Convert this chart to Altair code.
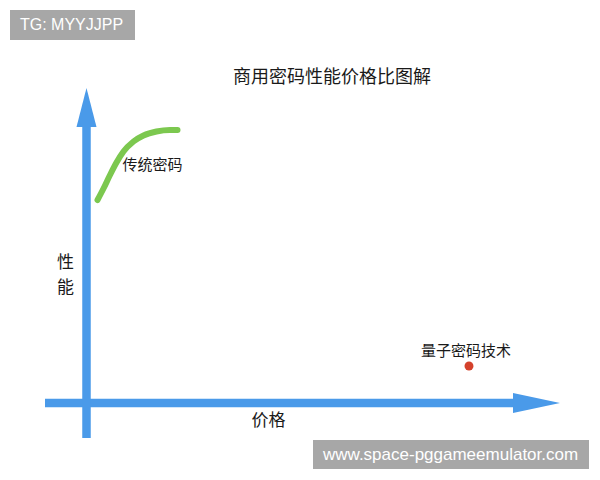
import altair as alt
import pandas as pd

# Diagram coordinates: origin where the two arrows cross, 1 unit ~ 1 px
X_DOMAIN = [-78.5, 505.5]
Y_DOMAIN = [-69, 395]

BLUE = "#4a9ae9"
GREEN = "#7cc84f"
RED = "#d4412b"
GREY = "#a7a7a7"
CJK = "Noto Sans CJK SC"
LATIN = "Liberation Sans"

# Axis shafts (price axis, performance axis)
shaft_x = [-41.5, 0]
shaft_x2 = [426.5, 0]
shaft_y = [0, -35]
shaft_y2 = [0, 276]

# Arrow heads
v_head_y = [276, 315]
v_head_left = [-10, 0]
v_head_right = [10, 0]
h_head_x = [426.5, 473.5]
h_head_low = [-10, 0]
h_head_high = [10, 0]

# Traditional crypto curve (price vs performance)
curve_price = [11, 17, 23.5, 30, 37, 47, 57, 70, 83.5, 91]
curve_perf = [203, 214.5, 228, 240.5, 251.5, 261.5, 267.5, 271.5, 273, 273]

# Quantum crypto point
quantum_price = [382.5]
quantum_perf = [37]

# Text labels
title_text = ["商用密码性能价格比图解"]
title_x = [245.5]
title_y = [325]

label_text = ["传统密码", "量子密码技术"]
label_x = [66, 379.5]
label_y = [238, 52]

axis_text = ["性", "能", "价格"]
axis_x = [-21, -21, 182]
axis_y = [140, 115, -18]

# Watermark boxes
wm_text = ["TG: MYYJJPP", "www.space-pggameemulator.com"]
wm_x = [-76.5, 226.5]
wm_x2 = [48.5, 502.5]
wm_y = [393, -37]
wm_y2 = [363, -66]
wm_tx = [-66.5, 236.5]
wm_ty = [378, -51.5]
wm_size = [16, 17]


def X(field, **kw):
    return alt.X(field, type="quantitative",
                 scale=alt.Scale(domain=X_DOMAIN, nice=False, zero=False),
                 axis=None, **kw)


def Y(field, **kw):
    return alt.Y(field, type="quantitative",
                 scale=alt.Scale(domain=Y_DOMAIN, nice=False, zero=False),
                 axis=None, **kw)


shafts = alt.Chart(pd.DataFrame({"x": shaft_x, "x2": shaft_x2,
                                 "y": shaft_y, "y2": shaft_y2})).mark_rule(
    color=BLUE, strokeWidth=8.5, strokeCap="butt"
).encode(x=X("x"), x2="x2", y=Y("y"), y2="y2")

v_head = alt.Chart(pd.DataFrame({"y": v_head_y, "l": v_head_left,
                                 "r": v_head_right})).mark_area(
    color=BLUE, orient="horizontal", opacity=1
).encode(y=Y("y"), x=X("l"), x2="r")

h_head = alt.Chart(pd.DataFrame({"x": h_head_x, "lo": h_head_low,
                                 "hi": h_head_high})).mark_area(
    color=BLUE, orient="vertical", opacity=1
).encode(x=X("x"), y=Y("lo"), y2="hi")

curve = alt.Chart(pd.DataFrame({"price": curve_price, "perf": curve_perf})).mark_line(
    color=GREEN, strokeWidth=6, strokeCap="round", interpolate="monotone"
).encode(x=X("price"), y=Y("perf"))

dot = alt.Chart(pd.DataFrame({"price": quantum_price, "perf": quantum_perf})).mark_circle(
    color=RED, size=80, opacity=1
).encode(x=X("price"), y=Y("perf"))

title = alt.Chart(pd.DataFrame({"t": title_text, "x": title_x, "y": title_y})).mark_text(
    font=CJK, fontSize=18, color="#1a1a1a", align="center", baseline="middle"
).encode(x=X("x"), y=Y("y"), text="t:N")

labels = alt.Chart(pd.DataFrame({"t": label_text, "x": label_x, "y": label_y})).mark_text(
    font=CJK, fontSize=15, color="#1a1a1a", align="center", baseline="middle"
).encode(x=X("x"), y=Y("y"), text="t:N")

axis_labels = alt.Chart(pd.DataFrame({"t": axis_text, "x": axis_x, "y": axis_y})).mark_text(
    font=CJK, fontSize=17, color="#1a1a1a", align="center", baseline="middle"
).encode(x=X("x"), y=Y("y"), text="t:N")

wm_df = pd.DataFrame({"t": wm_text, "x": wm_x, "x2": wm_x2, "y": wm_y, "y2": wm_y2,
                      "tx": wm_tx, "ty": wm_ty, "s": wm_size})

wm_boxes = alt.Chart(wm_df).mark_rect(color=GREY, opacity=1).encode(
    x=X("x"), x2="x2", y=Y("y"), y2="y2")

wm_texts = alt.Chart(wm_df).mark_text(
    font=LATIN, color="white", align="left", baseline="middle"
).encode(x=X("tx"), y=Y("ty"), text="t:N",
         size=alt.Size("s:Q", scale=None, legend=None))

chart = alt.layer(
    shafts, v_head, h_head, curve, dot, title, labels, axis_labels, wm_boxes, wm_texts
).properties(
    width=584, height=464, padding=0,
    autosize=alt.AutoSizeParams(type="none"),
    background="white",
).configure_view(stroke=None)

chart.save("out.html", embed_options={"renderer": "svg", "actions": False})
